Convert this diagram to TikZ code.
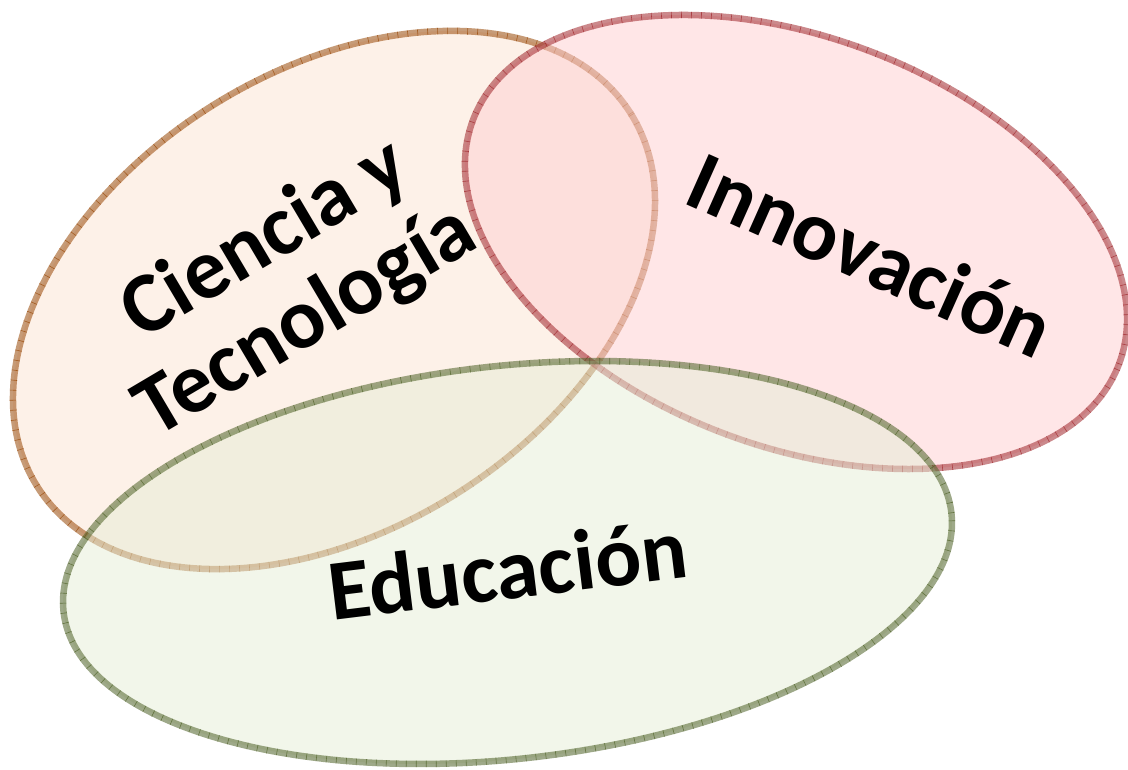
\documentclass[tikz,border=0pt]{standalone}
\usepackage{fontspec}
\setmainfont{Carlito}
\definecolor{orfill}{HTML}{FBE3D1}
\definecolor{orline}{HTML}{984807}
\definecolor{rdfill}{HTML}{FFCDD0}
\definecolor{rdline}{HTML}{A0282D}
\definecolor{gnfill}{HTML}{E5EDD5}
\definecolor{gnline}{HTML}{4F6228}
\newcommand\vennring[6]{%
  \fill[#6fill, fill opacity=0.5, rotate around={#3:(#1,#2)}] (#1,#2) ellipse [x radius=#4, y radius=#5];
  \draw[#6line, draw opacity=0.55, line width=6.5pt, rotate around={#3:(#1,#2)}] (#1,#2) ellipse [x radius=#4, y radius=#5];
  \draw[#6line, draw opacity=0.75, line width=6.5pt, dash pattern=on 0.6pt off 9.4pt, rotate around={#3:(#1,#2)}] (#1,#2) ellipse [x radius=#4, y radius=#5];
}
\begin{document}
\begin{tikzpicture}[x=1pt,y=1pt,
  lbl/.style={font=\fontsize{86}{91}\selectfont\bfseries, inner sep=0pt, anchor=base, text=black, align=center}]
\useasboundingbox (0,0) rectangle (1128,770);
\vennring{334}{470}{32.1}{350.5}{229.3}{or}
\vennring{796}{528}{-20.7}{345.3}{204.6}{rd}
\vennring{507.5}{207.5}{6.35}{446.7}{196.5}{gn}
\node[lbl, rotate=30.6] (ciencia) at (318,428) {\hspace*{14pt}Ciencia y\\Tecnología};
\node[lbl, rotate=-24, font=\fontsize{85}{91}\selectfont\bfseries] (inno) at (859,489) {Innovación};
\node[lbl, rotate=7] (educ) at (511,171) {Educación};
\end{tikzpicture}
\end{document}
